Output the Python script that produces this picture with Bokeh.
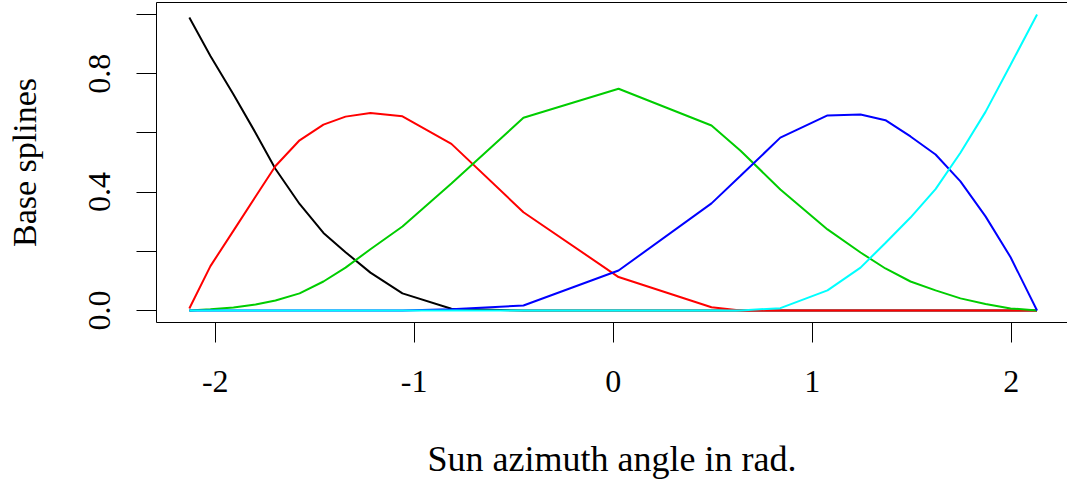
from bokeh.plotting import figure
from bokeh.models import Range1d, FixedTicker, LinearAxis
from bokeh.embed import file_html
from bokeh.resources import INLINE

# Sun azimuth angle (rad) at the sampled points
azimuth = [-2.13, -2.024, -1.908, -1.797, -1.697, -1.576, -1.456, -1.345, -1.220,
           -1.059, -0.813, -0.451, 0.027, 0.494, 0.640, 0.840, 1.077, 1.243,
           1.368, 1.494, 1.620, 1.745, 1.871, 1.997, 2.13]

spline1 = [0.990, 0.860, 0.730, 0.600, 0.478, 0.360, 0.262, 0.197, 0.128,
           0.058, 0.006, 0, 0, 0, 0, 0, 0, 0, 0, 0, 0, 0, 0, 0, 0]
spline2 = [0.007, 0.150, 0.270, 0.385, 0.488, 0.575, 0.628, 0.655, 0.667,
           0.656, 0.563, 0.332, 0.113, 0.011, 0.0, 0, 0, 0, 0, 0, 0, 0, 0, 0, 0]
spline3 = [0.0, 0.004, 0.010, 0.020, 0.034, 0.058, 0.098, 0.145, 0.207,
           0.284, 0.429, 0.651, 0.749, 0.625, 0.540, 0.409, 0.274, 0.196,
           0.142, 0.098, 0.068, 0.041, 0.022, 0.007, 0.0]
spline4 = [0, 0, 0, 0, 0, 0, 0, 0, 0, 0, 0.004, 0.017, 0.135, 0.362, 0.455,
           0.584, 0.659, 0.662, 0.643, 0.588, 0.527, 0.436, 0.318, 0.180, 0.0]
spline5 = [0, 0, 0, 0, 0, 0, 0, 0, 0, 0, 0, 0, 0, 0, 0, 0.008, 0.068, 0.145,
           0.228, 0.314, 0.410, 0.533, 0.671, 0.830, 1.0]

series = [spline1, spline2, spline3, spline4, spline5]
colors = ["#000000", "#FF0000", "#00CD00", "#0000FF", "#00FFFF"]

y_ticks = [0.0, 0.2, 0.4, 0.6, 0.8, 1.0]
y_labels = ["0.0", "", "0.4", "", "0.8", ""]
x_ticks = [-2, -1, 0, 1, 2]
x_labels = ["-2", "-1", "0", "1", "2"]

FONT = "Liberation Serif"

p = figure(width=1067, height=483, output_backend="svg", toolbar_location=None,
           x_range=Range1d(-2.295, 2.283), y_range=Range1d(-0.0405, 1.0405),
           min_border_left=156, min_border_right=0, min_border_top=2,
           min_border_bottom=161, x_axis_label="Sun azimuth angle in rad.",
           y_axis_label="Base splines")
p.outline_line_color = None
p.grid.visible = False
p.background_fill_color = "white"
p.border_fill_color = "white"

for ys, c in zip(series, colors):
    p.line(azimuth, ys, line_color=c, line_width=2)

for ax in (p.xaxis[0], p.yaxis[0]):
    ax.axis_line_color = "black"
    ax.axis_line_width = 1
    ax.major_tick_line_color = "black"
    ax.major_tick_out = 20
    ax.major_tick_in = 0
    ax.minor_tick_out = 0
    ax.minor_tick_in = 0
    ax.major_label_text_font = FONT
    ax.major_label_text_font_size = "32px"
    ax.major_label_text_color = "black"
    ax.axis_label_text_font = FONT
    ax.axis_label_text_font_style = "normal"
    ax.axis_label_text_color = "black"

p.xaxis[0].ticker = FixedTicker(ticks=x_ticks)
p.xaxis[0].major_label_overrides = {t: l for t, l in zip(x_ticks, x_labels)}
p.xaxis[0].major_label_standoff = 28
p.xaxis[0].axis_label_standoff = 44
p.xaxis[0].axis_label_text_font_size = "36px"

p.yaxis[0].ticker = FixedTicker(ticks=y_ticks)
p.yaxis[0].major_label_overrides = {t: l for t, l in zip(y_ticks, y_labels)}
p.yaxis[0].major_label_orientation = "vertical"
p.yaxis[0].major_label_standoff = 26
p.yaxis[0].axis_label_standoff = 44
p.yaxis[0].axis_label_text_font_size = "34px"

top = LinearAxis(ticker=FixedTicker(ticks=[]), major_tick_out=0, major_tick_in=0,
                 minor_tick_out=0, minor_tick_in=0, major_label_standoff=0,
                 major_label_text_font_size="0px", axis_label=None,
                 axis_line_color="black", axis_line_width=1)
p.add_layout(top, "above")

open("out.html", "w").write(file_html(p, INLINE))
